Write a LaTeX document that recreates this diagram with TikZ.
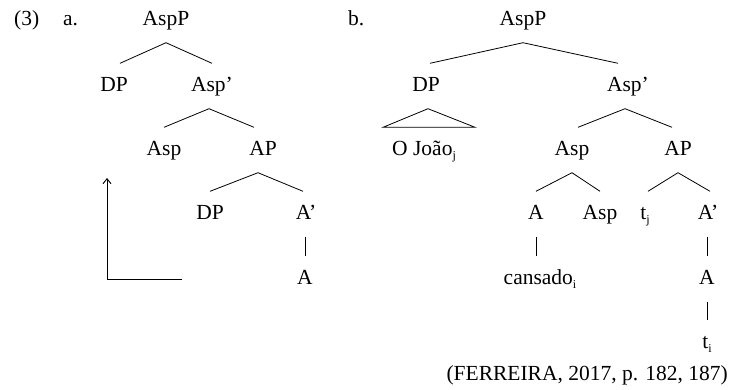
\documentclass[tikz,border=0pt]{standalone}
\usepackage{fontspec}
\setmainfont{Liberation Serif}
\usetikzlibrary{arrows.meta}
\newcommand\idx[1]{\raisebox{-4pt}{\fontsize{12}{12}\selectfont #1}}
\begin{document}
\begin{tikzpicture}[x=1pt,y=-1pt,
  lbl/.style={font=\fontsize{21.5}{25}\selectfont, inner sep=0pt, anchor=base west},
  tn/.style={font=\fontsize{21.5}{25}\selectfont, inner xsep=0pt, inner ysep=12.5pt,
             text height=15pt, text depth=5pt, anchor=base},
  br/.style={line width=0.8pt},
  mv/.style={line width=0.9pt, -{Straight Barb[length=5pt,width=8pt]}}]
\useasboundingbox (0,0) rectangle (730,389);

% example number and sub-labels
\node[lbl] (num) at (14,25) {(3)};
\node[lbl] (la) at (63,25) {a.};
\node[lbl] (lb) at (348,25) {b.};

% ---- tree (a)
\node[tn] (a0) at (166,25) {AspP};
\node[tn] (a1) at (114,91) {DP};
\node[tn] (a2) at (212,91) {Asp’};
\node[tn] (a3) at (164,155) {Asp};
\node[tn] (a4) at (263,155) {AP};
\node[tn] (a5) at (210,219) {DP};
\node[tn] (a6) at (306,219) {A’};
\node[tn] (a7) at (305,284) {A};

\draw[br] (a0.south) -- ([xshift=6pt]a1.north);
\draw[br] (a0.south) -- (a2.north);
\draw[br] ([xshift=-3pt]a2.south) -- (a3.north);
\draw[br] ([xshift=-3pt]a2.south) -- ([xshift=-9pt]a4.north);
\draw[br] ([xshift=-5pt]a4.south) -- (a5.north);
\draw[br] ([xshift=-5pt]a4.south) -- ([xshift=-3pt]a6.north);
\draw[br] (a7.north |- a6.south) -- (a7.north);

% movement arrow
\coordinate (mvfrom) at (182,279);
\coordinate (mvto) at (107,178);
\draw[mv] (mvfrom) -| (mvto);

% ---- tree (b)
\node[tn] (b0) at (523,25) {AspP};
\node[tn] (b1) at (426,91) {DP};
\node[tn] (b2) at (628,91) {Asp’};
\node[tn, anchor=base west] (b3) at (392,155) {O João\idx{j}};
\node[tn] (b4) at (572,155) {Asp};
\node[tn] (b5) at (678,155) {AP};
\node[tn] (b6) at (536,219) {A};
\node[tn] (b7) at (600,219) {Asp};
\node[tn] (b8) at (645,219) {t\idx{j}};
\node[tn] (b9) at (708,219) {A’};
\node[tn] (b10) at (540,284) {cansado\idx{i}};
\node[tn] (b11) at (707,284) {A};
\node[tn] (b12) at (707,348) {t\idx{i}};

\draw[br] (b0.south) -- ([xshift=4pt]b1.north);
\draw[br] (b0.south) -- ([xshift=-10pt]b2.north);
\draw[br] ([xshift=2pt]b1.south) -- ([xshift=-41pt]b3.north) -- ([xshift=51pt]b3.north) -- cycle;
\draw[br] ([xshift=-3pt]b2.south) -- ([xshift=6pt]b4.north);
\draw[br] ([xshift=-3pt]b2.south) -- ([xshift=-6pt]b5.north);
\draw[br] (b4.south) -- (b6.north);
\draw[br] (b4.south) -- (b7.north);
\draw[br] (b5.south) -- ([xshift=3pt]b8.north);
\draw[br] (b5.south) -- ([xshift=2pt]b9.north);
\draw[br] (b6.south) -- (b6.south |- b10.north);
\draw[br] (b11.north |- b9.south) -- (b11.north);
\draw[br] (b11.south) -- (b11.south |- b12.north);

% source
\node[font=\fontsize{21.5}{25}\selectfont, inner sep=0pt, anchor=base east] (src) at (728,380) {(FERREIRA, 2017, p. 182, 187)};
\end{tikzpicture}
\end{document}
